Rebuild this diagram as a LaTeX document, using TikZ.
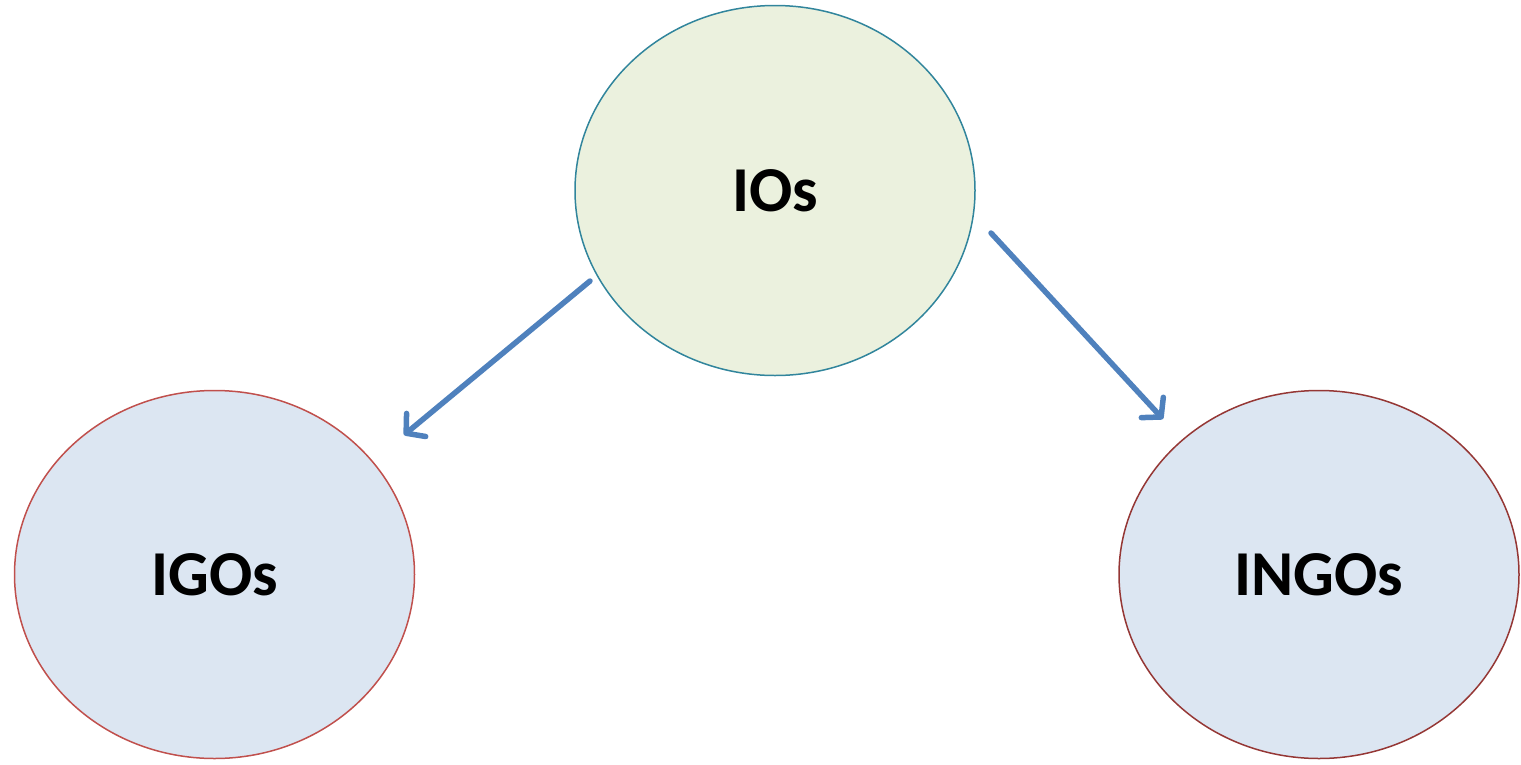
\documentclass[tikz,border=0pt]{standalone}
\usepackage{fontspec}
\setmainfont{Carlito}
\usetikzlibrary{arrows.meta,shapes.geometric}
\definecolor{greenfill}{RGB}{235,241,222}
\definecolor{bluefill}{RGB}{220,230,242}
\definecolor{tealline}{RGB}{49,133,156}
\definecolor{redline}{RGB}{192,80,77}
\definecolor{darkred}{RGB}{149,55,53}
\definecolor{arrowblue}{RGB}{79,129,189}
\tikzset{
  bubble/.style={ellipse, minimum width=400pt, minimum height=368pt, line width=1.5pt, font=\fontsize{64}{70}\selectfont\bfseries, inner sep=0pt},
  link/.style={draw=arrowblue, line width=5.5pt, line cap=round, -{Straight Barb[length=13pt,width=30pt,line width=5.5pt,line cap=round,line join=round]}}
}
\begin{document}
\begin{tikzpicture}[x=1pt,y=-1pt]
\useasboundingbox (0,0) rectangle (1521,764);
\node[bubble, draw=tealline, fill=greenfill, minimum height=370pt] (ios) at (775,190.5) {IOs};
\node[bubble, draw=redline, fill=bluefill] (igos) at (214.5,574.5) {IGOs};
\node[bubble, draw=darkred, fill=bluefill] (ingos) at (1319,574.5) {INGOs};
\coordinate (a1) at (590,281);
\coordinate (a2) at (404,435);
\coordinate (b1) at (991,233);
\coordinate (b2) at (1163,419);
\draw[link] (a1) -- (a2);
\draw[link] (b1) -- (b2);
\end{tikzpicture}
\end{document}
